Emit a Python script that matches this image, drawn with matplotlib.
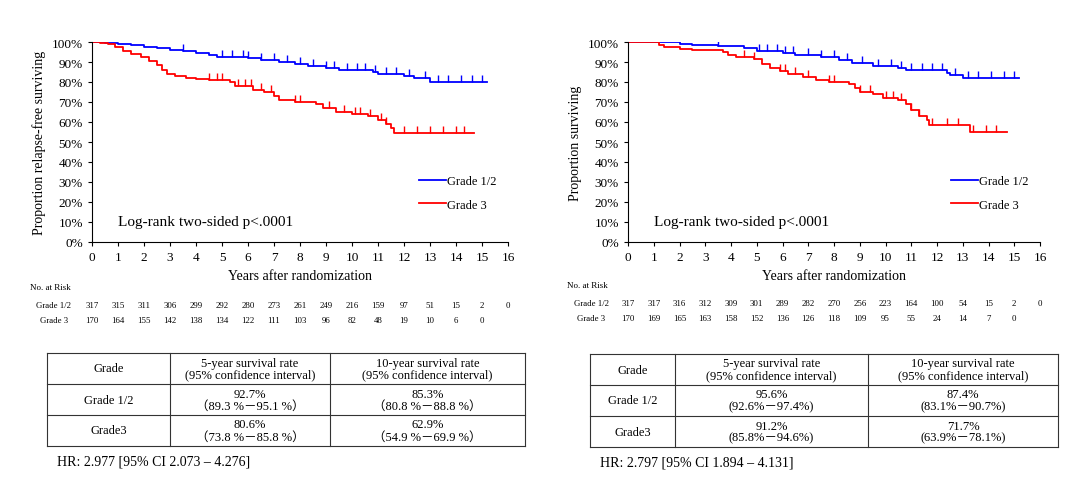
import numpy as np
import matplotlib.pyplot as plt
from matplotlib.transforms import blended_transform_factory

plt.rcParams['font.family'] = ['Liberation Serif', 'DejaVu Serif']

W, H = 1080, 489

# ---- data ----
rfs_g12_t = [0, 0.5, 1, 1.5, 2, 2.5, 3, 3.5, 4, 4.5, 4.8, 6, 6.5, 7.2, 7.8, 8.3, 9, 9.5, 10.8, 11, 12, 12.4, 13, 15.2]
rfs_g12_s = [1.0, .995, .99, .985, .975, .97, .96, .955, .945, .935, .925, .92, .91, .90, .89, .88, .87, .86, .85, .84, .83, .82, .80, .80]
rfs_g3_t = [0, .3, .6, .9, 1.2, 1.5, 1.9, 2.2, 2.5, 2.7, 2.9, 3.2, 3.6, 4, 4.5, 5.3, 5.5, 6.2, 6.6, 7.0, 7.2, 7.8, 8.6, 8.9, 9.4, 10, 10.6, 11, 11.3, 11.5, 11.6, 14.7]
rfs_g3_s = [1, .995, .99, .975, .955, .94, .925, .905, .885, .86, .84, .83, .82, .815, .81, .80, .78, .76, .75, .73, .71, .70, .69, .67, .65, .64, .63, .61, .59, .57, .545, .545]
os_g12_t = [0, 1, 1.5, 2, 2.5, 3.5, 4.5, 5, 6, 6.5, 7.5, 8.2, 8.7, 9.5, 10.5, 10.8, 12.4, 12.5, 13, 15.2]
os_g12_s = [1, 1, .998, .99, .985, .98, .97, .955, .945, .935, .925, .91, .895, .88, .87, .86, .845, .835, .82, .82]
os_g3_t = [0, 1, 1.2, 1.4, 2, 2.5, 3.7, 3.9, 4.2, 4.9, 5.2, 5.5, 5.9, 6.2, 6.8, 7.3, 7.8, 8.6, 8.8, 9, 9.5, 9.9, 10.5, 10.8, 11, 11.3, 11.6, 11.7, 13.3, 14.7]
os_g3_s = [1, 1, .985, .975, .965, .96, .95, .935, .925, .915, .89, .87, .855, .84, .825, .81, .80, .79, .77, .75, .74, .72, .71, .69, .66, .63, .61, .585, .55, .55]

rfs_g12_cens = [3.5, 5, 5.4, 5.8, 6.0, 6.5, 7, 7.5, 8, 8.5, 9, 9.3, 9.8, 10.2, 10.5, 10.9, 11.3, 11.7, 12.2, 12.8, 13.3, 13.7, 14.2, 14.6, 15.0]
rfs_g3_cens = [4.5, 4.8, 5.0, 5.6, 5.9, 6.1, 6.5, 6.9, 7.8, 8.0, 9.1, 9.7, 10.1, 10.3, 10.7, 11.1, 11.3, 12.0, 12.5, 13.0, 13.5, 14.0, 14.3]
os_g12_cens = [3.5, 5.1, 5.4, 5.8, 6.1, 6.4, 7, 7.5, 8, 8.5, 9.1, 9.7, 10.2, 10.6, 11, 11.4, 11.8, 12.2, 12.7, 13.2, 13.6, 14.1, 14.6, 15.0]
os_g3_cens = [4.5, 4.9, 5.9, 6.1, 6.5, 7.0, 7.8, 8.0, 9.0, 9.4, 10.0, 10.3, 10.6, 11.0, 11.3, 11.8, 12.4, 12.8, 13.4, 13.9, 14.3]

years = list(range(17))
rfs_risk_g12 = [317, 315, 311, 306, 299, 292, 280, 273, 261, 249, 216, 159, 97, 51, 15, 2, 0]
rfs_risk_g3 = [170, 164, 155, 142, 138, 134, 122, 111, 103, 96, 82, 48, 19, 10, 6, 0]
os_risk_g12 = [317, 317, 316, 312, 309, 301, 289, 282, 270, 256, 223, 164, 100, 54, 15, 2, 0]
os_risk_g3 = [170, 169, 165, 163, 158, 152, 136, 126, 118, 109, 95, 55, 24, 14, 7, 0]

table_header = ["Grade", "5-year survival rate\n(95% confidence interval)", "10-year survival rate\n(95% confidence interval)"]
rfs_table = [["Grade 1/2", "92.7%\n（89.3 %－95.1 %）", "85.3%\n（80.8 %－88.8 %）"],
             ["Grade3", "80.6%\n（73.8 %－85.8 %）", "62.9%\n（54.9 %－69.9 %）"]]
os_table = [["Grade 1/2", "95.6%\n(92.6%－97.4%)", "87.4%\n(83.1%－90.7%)"],
            ["Grade3", "91.2%\n(85.8%－94.6%)", "71.7%\n(63.9%－78.1%)"]]
rfs_hr = "HR: 2.977 [95% CI 2.073 – 4.276]"
os_hr = "HR: 2.797 [95% CI 1.894 – 4.131]"

fig = plt.figure(figsize=(W / 100, H / 100), dpi=100)


def px_axes(x0, y0, x1, y1):
    return fig.add_axes([x0 / W, 1 - y1 / H, (x1 - x0) / W, (y1 - y0) / H])


def km(ax, t, s, cens, color, label):
    ax.step(t, s, where='post', color=color, lw=1.3, label=label)
    # step value at censor time
    cy = [s[max(i for i, tt in enumerate(t) if tt <= c)] for c in cens]
    ax.plot(cens, cy, ls='none', marker=2, ms=5, mew=1, color=color)


def panel(x0, x1, ylab, c12, c3, risk12, risk3, risk_x, risk_y):
    ax = px_axes(x0, 43, x1, 243)
    km(ax, *c12, 'blue', 'Grade 1/2')
    km(ax, *c3, 'red', 'Grade 3')
    ax.set_xlim(0, 16)
    ax.set_ylim(0, 1.0)
    ax.set_xticks(years)
    ax.set_yticks(np.arange(0, 1.01, 0.1))
    ax.set_yticklabels([f"{int(round(v * 100))}%" for v in np.arange(0, 1.01, 0.1)])
    ax.tick_params(labelsize=9.5, length=3)
    for sp in ['top', 'right']:
        ax.spines[sp].set_visible(False)
    ax.set_xlabel("Years after randomization", fontsize=10)
    ax.set_ylabel(ylab, fontsize=10)
    ax.text(1.0, 0.1, "Log-rank two-sided p<.0001", fontsize=11, va='center')
    ax.legend(loc='lower right', bbox_to_anchor=(1.0, 0.1), frameon=False, fontsize=9,
              handlelength=2.2, handletextpad=0.1, labelspacing=0.9)
    tr = blended_transform_factory(ax.transData, fig.transFigure)
    fig.text(risk_x / W, 1 - risk_y[0] / H, "No. at Risk", fontsize=6.5, va='center')
    fig.text((risk_x + 24) / W, 1 - risk_y[1] / H, "Grade 1/2", fontsize=6.3, va='center', ha='center')
    fig.text((risk_x + 24) / W, 1 - risk_y[2] / H, "Grade 3", fontsize=6.3, va='center', ha='center')
    for yr, n in zip(years, risk12):
        ax.text(yr, 1 - risk_y[1] / H, str(n), transform=tr, fontsize=6.3, ha='center', va='center')
    for yr, n in zip(years, risk3):
        ax.text(yr, 1 - risk_y[2] / H, str(n), transform=tr, fontsize=6.3, ha='center', va='center')


def table(cols, rows, header, body, hr):
    ax = fig.add_axes([0, 0, 1, 1])
    ax.set_xlim(0, W)
    ax.set_ylim(H, 0)
    ax.axis('off')
    for x in cols:
        ax.plot([x, x], [rows[0], rows[-1]], color='#333333', lw=0.8)
    for y in rows:
        ax.plot([cols[0], cols[-1]], [y, y], color='#333333', lw=0.8)
    lines = [header] + body
    for r, cells in enumerate(lines):
        yc = (rows[r] + rows[r + 1]) / 2
        for c, txt in enumerate(cells):
            xc = (cols[c] + cols[c + 1]) / 2
            ax.text(xc, yc, txt, ha='center', va='center', fontsize=9, linespacing=1.0,
                    family=['Liberation Serif', 'Noto Sans CJK SC'])
    ax.text(cols[0] + 10, rows[-1] + 15, hr, fontsize=10, va='center')


panel(92, 508, "Proportion relapse-free surviving",
      (rfs_g12_t, rfs_g12_s, rfs_g12_cens), (rfs_g3_t, rfs_g3_s, rfs_g3_cens),
      rfs_risk_g12, rfs_risk_g3, 30, (288, 306, 321))
panel(628, 1040, "Proportion surviving",
      (os_g12_t, os_g12_s, os_g12_cens), (os_g3_t, os_g3_s, os_g3_cens),
      os_risk_g12, os_risk_g3, 567, (286, 304, 319))
table([47, 170, 330, 525], [354, 385, 416, 447], table_header, rfs_table, rfs_hr)
table([590, 675, 868, 1058], [355, 386, 417, 448], table_header, os_table, os_hr)

fig.savefig("out.png", dpi=100)
